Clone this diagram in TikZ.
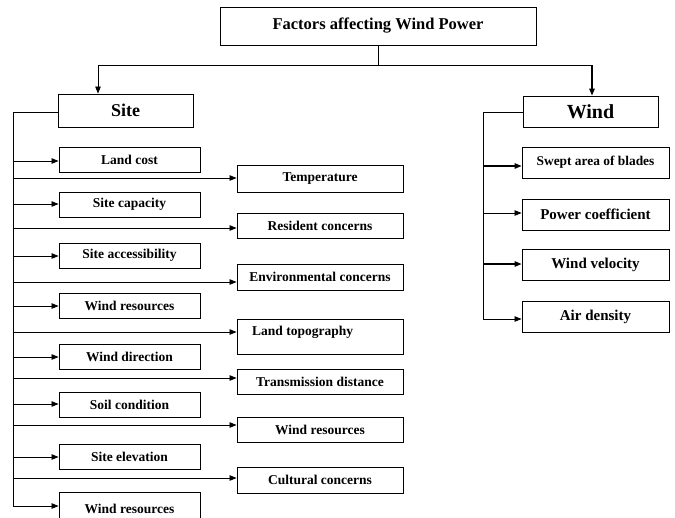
\documentclass[tikz,border=0pt]{standalone}
\usepackage{fontspec}
\setmainfont{Liberation Serif}
\usetikzlibrary{arrows.meta}
\begin{document}
\begin{tikzpicture}[x=1pt,y=-1pt,
  box/.style={draw,line width=0.9pt,inner sep=0pt,font=\bfseries\fontsize{13.5}{14}\selectfont},
  lbox/.style={box,minimum width=141pt,minimum height=25pt},
  rbox/.style={box,minimum width=166pt,minimum height=26pt},
  wbox/.style={box,minimum width=147pt,minimum height=31pt,font=\bfseries\fontsize{15}{16}\selectfont},
  conn/.style={line width=0.8pt},
  arr/.style={conn,-{Triangle[length=7pt,width=5.5pt]}},
  barr/.style={line width=1.3pt,-{Triangle[length=7pt,width=5.5pt]}}]
\useasboundingbox (0,0) rectangle (675,517);
\clip (0,0) rectangle (675,517);
% top
\node[box,minimum width=316pt,minimum height=38pt,font=\bfseries\fontsize{16.5}{18}\selectfont] (top) at (378,26) {Factors affecting Wind Power};
\node[box,minimum width=135pt,minimum height=33pt,font=\bfseries\fontsize{18}{20}\selectfont] (site) at (125.5,110.5) {Site};
\node[box,minimum width=135pt,minimum height=31pt,font=\bfseries\fontsize{20}{22}\selectfont] (wind) at (590.5,111.5) {Wind};
\coordinate (j) at (378,65);
\coordinate (jl) at (98,65);
\coordinate (jr) at (592,65);
\draw[conn] (top.south -| j) -- (j);
\draw[arr] (j) -- (jl) -- (jl |- site.north);
\draw[conn] (j) -- (jr);
\draw[barr] (jr) -- (jr |- wind.north);
% left column
\node[lbox] (l1) at (129.5,160) {Land cost};
\node[lbox] (l2) at (129.5,204.5) {Site capacity};
\node[lbox] (l3) at (129.5,255.5) {Site accessibility};
\node[lbox] (l4) at (129.5,305.5) {Wind resources};
\node[lbox] (l5) at (129.5,356.5) {Wind direction};
\node[lbox] (l6) at (129.5,404.5) {Soil condition};
\node[lbox] (l7) at (129.5,457) {Site elevation};
\node[lbox,minimum height=33pt] (l8) at (129.5,508.5) {Wind resources};
% right column
\node[rbox,minimum height=27pt] (r1) at (320,178.5) {Temperature};
\node[rbox,minimum height=25pt] (r2) at (320,225.5) {Resident concerns};
\node[rbox] (r3) at (320,277) {Environmental concerns};
\node[rbox,minimum height=35pt] (r4) at (320,336.5) {};
\node[font=\bfseries\fontsize{13.5}{14}\selectfont,anchor=west,inner sep=0pt] (r4t) at (252,332) {Land topography};
\node[rbox,minimum height=25pt] (r5) at (320,381.5) {Transmission distance};
\node[rbox,minimum height=25pt] (r6) at (320,429.5) {Wind resources};
\node[rbox] (r7) at (320,480) {Cultural concerns};
% spine
\coordinate (s0) at (13,112);
\coordinate (se) at (13,506);
\draw[conn] (site.west |- s0) -- (s0) -- (se);
\foreach \n/\y in {l1/161,l2/204,l3/256,l4/306,l5/357,l6/404,l7/457,l8/506}{
  \coordinate (c\n) at (13,\y);
  \draw[arr] (c\n) -- (c\n -| \n.west);
}
\foreach \n/\y in {r1/178,r2/228,r3/282,r4/332,r5/378,r6/425,r7/478}{
  \coordinate (c\n) at (13,\y);
  \draw[arr] (c\n) -- (c\n -| \n.west);
}
% wind column
\node[wbox,font=\bfseries\fontsize{13.4}{14}\selectfont] (w1) at (595.5,162.5) {Swept area of blades};
\node[wbox] (w2) at (595.5,214.5) {Power coefficient};
\node[wbox] (w3) at (595.5,265) {Wind velocity};
\node[wbox] (w4) at (595.5,316.5) {Air density};
\coordinate (t0) at (483,112);
\coordinate (te) at (483,319);
\draw[conn] (wind.west |- t0) -- (t0) -- (te);
\coordinate (cw1) at (483,166);
\coordinate (cw2) at (483,213);
\coordinate (cw3) at (483,264);
\draw[barr] (cw1) -- (cw1 -| w1.west);
\draw[arr] (cw2) -- (cw2 -| w2.west);
\draw[barr] (cw3) -- (cw3 -| w3.west);
\draw[arr] (te) -- (te -| w4.west);
\end{tikzpicture}
\end{document}
